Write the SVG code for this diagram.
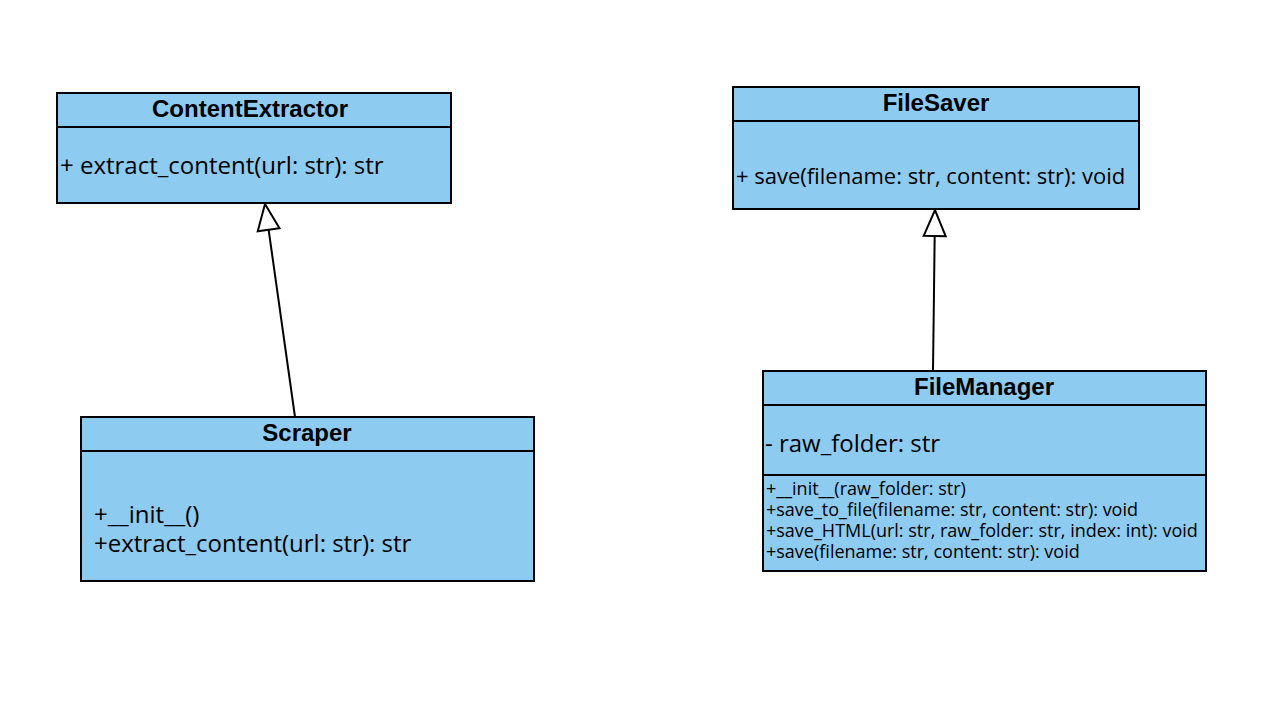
<svg xmlns="http://www.w3.org/2000/svg" width="1284" height="708" viewBox="0 0 1284 708">
<defs>
<style>
.box{fill:#8ecbf1;stroke:#000;stroke-width:2}
.div{stroke:#000;stroke-width:2}
.title{font-family:"Liberation Sans",Arial,sans-serif;font-weight:bold;font-size:24px;text-anchor:middle}
.m{font-family:"Open Sans","Noto Sans",sans-serif;font-size:24px}
.f{font-family:"Open Sans","Noto Sans",sans-serif;font-size:22px}
.s{font-family:"Open Sans","Noto Sans",sans-serif;font-size:18px}
.edge{fill:none;stroke:#000;stroke-width:2}
</style>
<marker id="tri" markerUnits="userSpaceOnUse" markerWidth="30" markerHeight="30" viewBox="0 0 30 30" refX="28" refY="15" orient="auto">
<path d="M2,4 L28,15 L2,26 Z" fill="#fff" stroke="#000" stroke-width="2"/>
</marker>
</defs>
<rect width="1284" height="708" fill="#fff"/>
<g id="connectors">
<path class="edge" d="M295,417 L265,204" marker-end="url(#tri)"/>
<path class="edge" d="M933,371 L935,210" marker-end="url(#tri)"/>
</g>
<g id="ContentExtractor">
<rect class="box" x="57" y="93" width="394" height="110"/>
<line class="div" x1="57" y1="127" x2="451" y2="127"/>
<text class="title" x="250" y="117">ContentExtractor</text>
<text class="m" x="60" y="174">+ extract_content(url: str): str</text>
</g>
<g id="FileSaver">
<rect class="box" x="733" y="87" width="406" height="122"/>
<line class="div" x1="733" y1="121" x2="1139" y2="121"/>
<text class="title" x="936" y="111">FileSaver</text>
<text class="f" x="736" y="184">+ save(filename: str, content: str): void</text>
</g>
<g id="Scraper">
<rect class="box" x="81" y="417" width="453" height="164"/>
<line class="div" x1="81" y1="451" x2="534" y2="451"/>
<text class="title" x="307" y="441">Scraper</text>
<text class="m" x="94" y="523">+__init__()</text>
<text class="m" x="94" y="552">+extract_content(url: str): str</text>
</g>
<g id="FileManager">
<rect class="box" x="763" y="371" width="443" height="200"/>
<line class="div" x1="763" y1="405" x2="1206" y2="405"/>
<line class="div" x1="763" y1="475" x2="1206" y2="475"/>
<text class="title" x="984" y="395">FileManager</text>
<text class="m" x="765" y="452">- raw_folder: str</text>
<text class="s" x="766" y="495">+__init__(raw_folder: str)</text>
<text class="s" x="766" y="516">+save_to_file(filename: str, content: str): void</text>
<text class="s" x="766" y="537">+save_HTML(url: str, raw_folder: str, index: int): void</text>
<text class="s" x="766" y="558">+save(filename: str, content: str): void</text>
</g>
</svg>
